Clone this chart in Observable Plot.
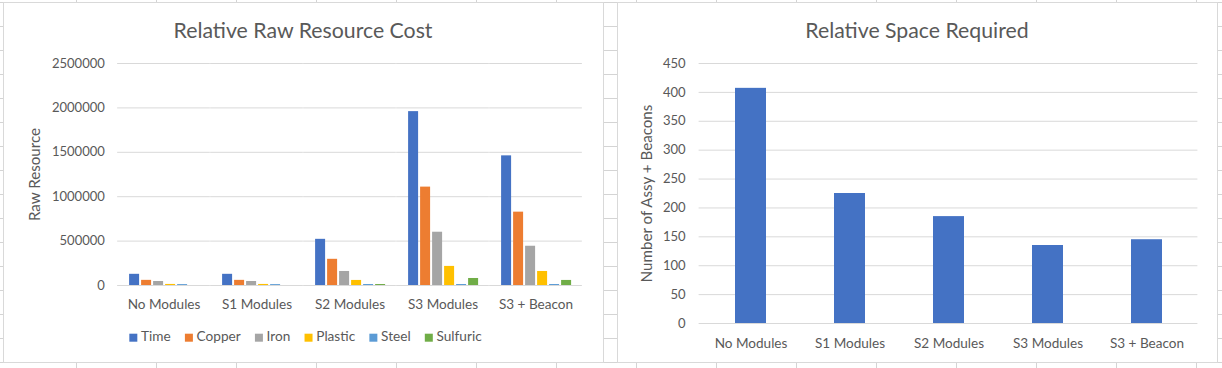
<!DOCTYPE html>
<html><head><meta charset="utf-8">
<script src="https://cdn.jsdelivr.net/npm/d3@7"></script>
<script src="https://cdn.jsdelivr.net/npm/@observablehq/plot@0.6"></script>
<style>
html,body{margin:0;padding:0;}
body{width:1222px;height:368px;overflow:hidden;position:relative;background-color:#fff;
background-image:linear-gradient(to right,#d4d4d4 1px,transparent 1px),linear-gradient(to bottom,#d4d4d4 1px,transparent 1px);
background-size:80px 100%,100% 24px;background-position:76px 0,0 2px;}
.box{position:absolute;box-sizing:border-box;border:1px solid #d9d9d9;background:#fff;top:2px;width:601px;height:361px;}
.layer{position:absolute;top:0;}
</style></head><body>
<div class="box" style="left:3px"></div>
<div class="box" style="left:617px"></div>
<div id="left" class="layer" style="left:0;width:605px;height:320px"></div>
<div id="right" class="layer" style="left:610px;width:612px;height:360px"></div>
<div id="overlay" class="layer" style="left:0;width:1222px;height:368px;pointer-events:none"></div>
<script>
// ---- data ----
const categories = ["No Modules", "S1 Modules", "S2 Modules", "S3 Modules", "S3 + Beacon"];
const series = ["Time", "Copper", "Iron", "Plastic", "Steel", "Sulfuric"];
const time     = [126000, 126000, 520000, 1958000, 1460000];
const copper   = [58000, 58000, 295000, 1108000, 826000];
const iron     = [45000, 45000, 158000, 600000, 442000];
const plastic  = [12000, 12000, 57000, 215000, 158000];
const steel    = [10000, 10000, 11000, 11000, 11000];
const sulfuric = [0, 0, 11000, 79000, 57000];
const space    = [407, 225, 185, 135, 145];
const leftTicks  = [0, 500000, 1000000, 1500000, 2000000, 2500000];
const rightTicks = [0, 50, 100, 150, 200, 250, 300, 350, 400, 450];
const seriesColors = ["#4472C4", "#ED7D31", "#A5A5A5", "#FFC000", "#5B9BD5", "#70AD47"];
const titles = ["Relative Raw Resource Cost", "Relative Space Required"];
const yTitles = ["Raw Resource", "Number of Assy + Beacons"];

// ---- styles ----
const FONT = "Lato";
const TEXT = "#595959";
const GRID = "#d9d9d9";
const ctx = document.createElement("canvas").getContext("2d");
function fit(texts, widths) {
  ctx.font = `100px ${FONT}`;
  let w = 0; texts.forEach(t => w += ctx.measureText(t).width);
  return 100 * d3.sum(widths) / w;
}
function measure(t, size) { ctx.font = `${size}px ${FONT}`; return ctx.measureText(t).width; }
const tickFS = fit(["2500000", "500000"], [53, 45.5]);
const catFS = fit(["No Modules", "S1 Modules", "S3 + Beacon"], [73, 70.8, 73.2]);
const legendFS = fit(series, [29.3, 44.3, 24.3, 38.4, 30, 45]);
const axisTitleFS = fit(yTitles, [94, 179]);
const titleFS = fit(titles, [258, 225.2]);

const vals = [time, copper, iron, plastic, steel, sulfuric];
const table = categories.flatMap((c, i) => series.map((s, j) => ({category: c, series: s, value: vals[j][i]})));

// ---- left chart ----
const L = {width: 605, height: 320, ml: 126.9, mr: 31.6, mt: 63, mb: 35, fxPad: 0.232};
const lStep = (L.width - L.ml - L.mr) / (categories.length - L.fxPad);
const halfGap = lStep * L.fxPad / 2;
const left = Plot.plot({
  width: L.width, height: L.height,
  marginLeft: L.ml, marginRight: L.mr, marginTop: L.mt, marginBottom: L.mb,
  style: {background: "transparent", fontFamily: FONT, color: TEXT, overflow: "visible"},
  fx: {domain: categories, paddingInner: L.fxPad, paddingOuter: 0, label: null},
  x: {domain: series, paddingInner: 0.19, paddingOuter: 0, axis: null},
  y: {domain: [0, 2500000]},
  color: {domain: series, range: seriesColors},
  marks: [
    Plot.gridY(leftTicks, {stroke: GRID, strokeOpacity: 1, strokeWidth: 1, insetLeft: -halfGap, insetRight: -halfGap}),
    Plot.axisY(leftTicks, {tickSize: 0, tickPadding: 23.6, tickFormat: d => String(d), fontSize: tickFS, label: null, fill: TEXT}),
    Plot.axisY({ticks: [], tickSize: 0, label: yTitles[0], labelAnchor: "center", labelOffset: 99, labelArrow: "none", fontSize: axisTitleFS, fill: TEXT}),
    Plot.axisFx({anchor: "bottom", tickSize: 0, tickPadding: 14.3, fontSize: catFS, label: null, fill: TEXT}),
    Plot.barY(table, {fx: "category", x: "series", y: "value", fill: "series"})
  ]
});
document.getElementById("left").appendChild(left);

// ---- right chart ----
const R = {width: 612, height: 360, ml: 88.6, mr: 24.6, mt: 63, mb: 37, pad: 0.687};
const right = Plot.plot({
  width: R.width, height: R.height,
  marginLeft: R.ml, marginRight: R.mr, marginTop: R.mt, marginBottom: R.mb,
  style: {background: "transparent", fontFamily: FONT, color: TEXT, overflow: "visible"},
  x: {domain: categories, paddingInner: R.pad, paddingOuter: R.pad / 2},
  y: {domain: [0, 450]},
  marks: [
    Plot.gridY(rightTicks, {stroke: GRID, strokeOpacity: 1, strokeWidth: 1}),
    Plot.axisY(rightTicks, {tickSize: 0, tickPadding: 13.5, fontSize: tickFS, label: null, fill: TEXT}),
    Plot.axisY({ticks: [], tickSize: 0, label: yTitles[1], labelAnchor: "center", labelOffset: 57.4, labelArrow: "none", fontSize: axisTitleFS, fill: TEXT}),
    Plot.axisX({tickSize: 0, tickPadding: 14.5, fontSize: catFS, label: null, fill: TEXT}),
    Plot.barY(categories.map((c, i) => ({category: c, value: space[i]})), {x: "category", y: "value", fill: seriesColors[0]})
  ]
});
document.getElementById("right").appendChild(right);

// ---- titles and legend ----
const svg = d3.select("#overlay").append("svg").attr("width", 1222).attr("height", 368)
  .style("font-family", FONT).style("display", "block");
[303, 917].forEach((cx, i) => {
  svg.append("text").attr("x", cx).attr("y", 38.3).attr("text-anchor", "middle")
    .attr("font-size", titleFS).attr("fill", TEXT).text(titles[i]);
});
const sq = 8, sqGap = 3.7, itemGap = 14.2;
const widths = series.map(s => measure(s, legendFS));
const total = d3.sum(widths) + series.length * (sq + sqGap) + (series.length - 1) * itemGap;
let lx = 305.5 - total / 2;
series.forEach((s, i) => {
  svg.append("rect").attr("x", lx).attr("y", 333.7).attr("width", sq).attr("height", sq).attr("fill", seriesColors[i]);
  svg.append("text").attr("x", lx + sq + sqGap).attr("y", 341).attr("font-size", legendFS).attr("fill", TEXT).text(s);
  lx += sq + sqGap + widths[i] + itemGap;
});
</script>
</body></html>
